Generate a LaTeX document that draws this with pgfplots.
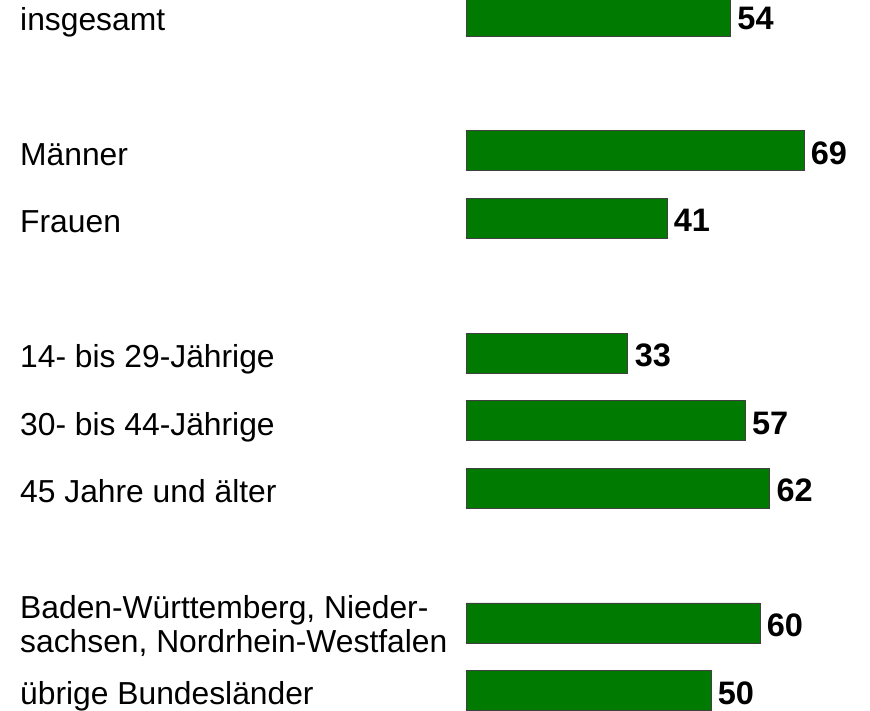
\documentclass[border=0pt]{standalone}
\usepackage{pgfplots}
\pgfplotsset{compat=1.18}
\usepackage{fontspec}
\setmainfont{Liberation Sans}
\definecolor{bargreen}{RGB}{0,122,0}
\begin{document}
\begin{tikzpicture}[x=1pt,y=1pt]
\path[use as bounding box] (0,0) rectangle (870,711);
\begin{axis}[
  at={(466.5pt,0pt)}, anchor=south west,
  scale only axis, width=391.2pt, height=711pt,
  xmin=0, xmax=80,
  ymin=-0.237, ymax=10.305, y dir=reverse,
  xbar, bar width=40pt, bar shift=0pt,
  axis line style={draw=none},
  tick style={draw=none},
  major tick length=0pt,
  xtick=\empty,
  ytick={0,2,3,5,6,7,9,10},
  yticklabels={insgesamt, M\"anner, Frauen, 14- bis 29-J\"ahrige, 30- bis 44-J\"ahrige, 45 Jahre und \"alter, {\raisebox{18.5pt}{\begin{tabular}[t]{@{}l@{}}Baden-W\"urttemberg, Nieder-\\sachsen, Nordrhein-Westfalen\end{tabular}}}, \"ubrige Bundesl\"ander},
  yticklabel style={anchor=base west, inner sep=0pt, xshift=-446.5pt, yshift=-14.5pt, font=\fontsize{31.8}{34}\selectfont},
  /pgf/number format/assume math mode=true,
  nodes near coords={\pgfmathprintnumber{\pgfplotspointmeta}},
  nodes near coords style={anchor=west, inner sep=0pt, xshift=6.5pt, yshift=-2.5pt, font=\fontsize{32.5}{36}\selectfont\bfseries},
  clip=false,
]
\addplot[fill=bargreen, draw=black!75, line width=0.8pt] coordinates {
  (54,0) (69,2) (41,3) (33,5) (57,6) (62,7) (60,9) (50,10)
};
\end{axis}
\end{tikzpicture}
\end{document}
